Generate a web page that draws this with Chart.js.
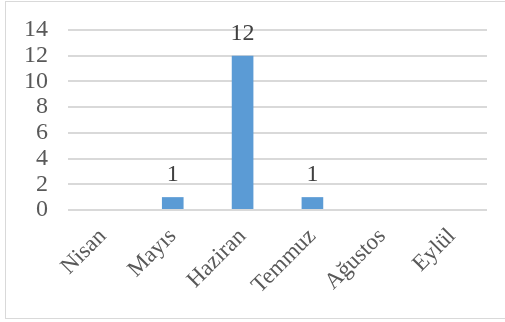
<!DOCTYPE html>
<html>
<head>
<meta charset="utf-8">
<script src="https://cdn.jsdelivr.net/npm/chart.js@4.4.0/dist/chart.umd.min.js"></script>
<style>
  html, body { margin: 0; padding: 0; background: #fff; }
  #frame {
    position: absolute; left: 5px; top: 1px; width: 520px; height: 318px;
    border: 1px solid #d9d9d9; box-sizing: border-box;
  }
  #salesChart { position: absolute; left: 0; top: 0; }
</style>
</head>
<body>
<div id="frame"></div>
<canvas id="salesChart" width="505" height="322"></canvas>
<script>
const months = ["Nisan", "Mayıs", "Haziran", "Temmuz", "Ağustos", "Eylül"];
const counts = [0, 1, 12, 1, 0, 0];
const yTicks = [0, 2, 4, 6, 8, 10, 12, 14];

const serif = "'Liberation Serif', 'Times New Roman', serif";

// writes the value above every non-empty bar
const barValues = {
  id: "barValues",
  afterDatasetsDraw(chart) {
    const ctx = chart.ctx;
    const meta = chart.getDatasetMeta(0);
    ctx.save();
    ctx.font = "24px " + serif;
    ctx.fillStyle = "#404040";
    ctx.textAlign = "center";
    ctx.textBaseline = "alphabetic";
    meta.data.forEach((bar, i) => {
      const v = chart.data.datasets[0].data[i];
      if (v > 0) ctx.fillText(String(v), bar.x, bar.y - 16);
    });
    ctx.restore();
  },
};

new Chart(document.getElementById("salesChart").getContext("2d"), {
  type: "bar",
  data: {
    labels: months,
    datasets: [
      {
        data: counts,
        backgroundColor: "#5b9bd5",
        borderWidth: 0,
        barPercentage: 0.31,
        categoryPercentage: 1,
      },
    ],
  },
  options: {
    responsive: false,
    animation: false,
    events: [],
    layout: { padding: { left: 0, right: 18, top: 30, bottom: 0 } },
    plugins: { legend: { display: false }, tooltip: { enabled: false } },
    scales: {
      x: {
        grid: { display: false },
        border: { display: false },
        ticks: {
          autoSkip: false,
          minRotation: 45,
          maxRotation: 45,
          padding: 5,
          color: "#595959",
          font: { family: serif, size: 23 },
        },
        afterFit(scale) {
          scale.height = 112;
        },
      },
      y: {
        min: 0,
        max: 14,
        afterBuildTicks(scale) {
          scale.ticks = yTicks.map((v) => ({ value: v }));
        },
        // invisible tick marks keep the labels away from the plot
        grid: {
          color: "#d9d9d9",
          lineWidth: 2,
          drawTicks: true,
          tickLength: 20,
          tickColor: "rgba(0,0,0,0)",
        },
        border: { display: false },
        ticks: {
          autoSkip: false,
          padding: 0,
          color: "#595959",
          font: { family: serif, size: 24 },
        },
        afterFit(scale) {
          scale.width = 68;
        },
      },
    },
  },
  plugins: [barValues],
});
</script>
</body>
</html>
